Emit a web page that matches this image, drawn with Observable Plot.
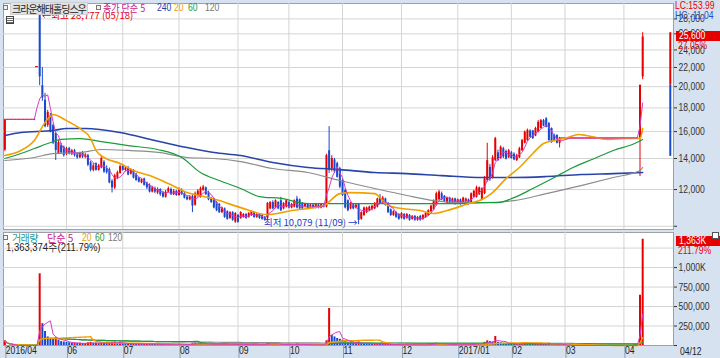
<!DOCTYPE html>
<html><head><meta charset="utf-8">
<script src="https://cdn.jsdelivr.net/npm/d3@7"></script>
<script src="https://cdn.jsdelivr.net/npm/@observablehq/plot@0.6"></script>
<style>
body{margin:0;background:#fff;}
#wrap{position:relative;width:720px;height:358px;overflow:hidden;background:#d6e2f0;}
#wrap svg{position:absolute;left:0;display:block;}
.lab{position:absolute;white-space:nowrap;line-height:11px;transform-origin:0 0;}
</style></head><body><div id="wrap"></div>
<script>
// ---------- DATA ----------
const open = [14600,17000,17000,17000,17000,17000,17000,17000,17000,17000,
17000,17000,22100,28700,20100,18700,16500,17300,16500,15850,
14350,14950,14800,14300,14700,14300,14550,14250,14050,14400,
14100,14200,13700,13200,13650,13200,13350,13750,13300,13250,
12500,12100,12700,13000,13450,13200,13350,12950,13150,12900,
12700,12400,12650,12400,12250,11850,12050,11800,12000,11800,
11550,11850,12000,11700,11900,11650,11950,11750,11550,11400,
11600,11100,11650,11550,11950,12100,11800,11450,11450,11250,
11150,10700,10900,10750,10400,10700,10200,10550,10400,10450,
10600,10450,10550,10700,10450,10600,10550,10450,10400,10900,
11250,10950,11250,11350,10900,11000,11250,10950,11000,11450,
11400,11200,11000,11150,11000,11100,10950,11100,10950,11100,
11000,14550,13300,13900,13650,13300,12550,11950,11350,10900,
11150,10950,11150,10350,10550,10700,10800,10850,10900,11000,
11550,11250,11450,11200,10850,10550,10700,10600,10400,10600,
10400,10550,10350,10500,10300,10500,10350,10450,10550,10750,
10850,11100,11400,11750,11600,11200,11500,11250,11450,11200,
11400,11200,11300,11400,11250,11550,11550,11700,11400,11750,
12550,13400,12700,13850,14400,14000,14700,14500,14050,14400,
14300,13850,14050,14550,15100,15300,16050,16050,15650,15950,
16250,16900,17050,16650,16250,15700,15700,15100,15500,15500,
15500,15500,15500,15500,15500,15500,15500,15500,15500,15500,
15500,15500,15500,15500,15500,15500,15500,15500,15500,15500,
15500,15500,15500,15500,15500,15500,15500,15500,21000];
const high = [17000,17000,17000,17000,17000,17000,17000,17000,17000,17000,
17000,17000,22100,28777,22000,19350,17780,17500,16600,15900,
15300,15100,14900,14800,14800,14650,14650,14400,14450,14500,
14350,14300,13800,13650,13700,13600,14200,13850,13500,13350,
12600,12950,13150,13550,13550,13450,13450,13300,13250,13000,
12750,12650,12700,12450,12350,12200,12150,12100,12050,11900,
11950,12150,12100,12000,11950,12100,12050,11850,11650,11650,
11700,11850,12000,12150,12250,12150,11900,11550,11500,11300,
11200,11000,10950,10800,10750,10750,10700,10600,10750,10650,
10650,10700,10800,10750,10650,10650,10600,10500,11250,11300,
11350,11400,11300,11550,11250,11400,11300,11200,11400,11600,
11450,11250,11200,11200,11150,11150,11200,11150,11200,11150,
14300,16400,14200,14000,13750,13400,12650,12050,11400,11250,
11200,11150,11200,10750,11000,11000,11050,11100,11250,11500,
11700,11600,11500,11250,10900,10800,10750,10650,10700,10650,
10650,10600,10550,10550,10500,10550,10600,10700,10850,11100,
11400,11850,11950,11850,11650,11550,11550,11500,11500,11450,
11450,11550,11500,11450,11800,11950,12200,12150,12100,12800,
15100,13600,14200,15550,14600,14900,14800,14600,14650,14500,
14400,14300,14800,15400,16050,16200,16150,16100,16350,16900,
17000,17000,17150,16750,16300,15800,15750,15550,15500,15500,
15500,15500,15500,15500,15500,15500,15500,15500,15500,15500,
15500,15500,15500,15500,15500,15500,15500,15500,15500,15500,
15500,15500,15500,15500,15500,15500,15500,20150,26150];
const low = [14500,17000,17000,17000,17000,17000,17000,17000,17000,17000,
17000,17000,22100,20100,18600,16300,16340,15900,15000,13860,
14300,14300,14100,14200,14250,14200,14100,13950,14000,14000,
14000,13450,13100,13100,13150,13150,13300,13000,12950,12350,
11800,12000,12600,12950,13150,13100,12850,12900,12650,12500,
12400,12350,12200,12000,11800,11800,11750,11700,11600,11500,
11500,11800,11650,11650,11600,11600,11650,11450,11350,11350,
10700,11050,11550,11500,11900,11650,11350,11200,10900,10750,
10650,10650,10400,10300,10350,10250,10150,10150,10350,10400,
10350,10400,10500,10400,10400,10350,10300,10250,10350,10850,
10850,10900,10850,10750,10850,10950,10900,10900,10950,10900,
10850,10850,10950,10900,10950,10900,10900,10900,10900,10950,
10950,13000,13100,13000,12700,12050,11600,10900,10750,10850,
10850,10900,10079,10300,10500,10650,10750,10800,10850,10950,
11150,11200,11050,10650,10500,10500,10400,10300,10350,10300,
10350,10250,10300,10250,10250,10250,10300,10400,10500,10700,
10800,11050,11350,11350,11250,11150,11150,11200,11100,11150,
11100,11150,11250,11100,11200,11500,11500,11650,11350,11700,
12450,12500,12650,13800,13800,13950,14000,13900,14000,13950,
13850,13800,14000,14500,15050,15250,15500,15400,15600,15900,
16200,16400,16300,15250,15100,15200,15050,14750,15500,15500,
15500,15500,15500,15500,15500,15500,15500,15500,15500,15500,
15500,15500,15500,15500,15500,15500,15500,15500,15500,15500,
15500,15500,15500,15500,15500,15500,15500,12800,20700];
const close = [17000,17000,17000,17000,17000,17000,17000,17000,17000,17000,
17000,17000,22100,21000,18900,16400,17600,15950,15100,14570,
15150,14400,14200,14700,14350,14550,14200,14050,14350,14100,
14250,13550,13200,13500,13200,13500,14000,13100,13050,12400,
12100,12850,13050,13450,13200,13350,12900,13200,12700,12550,
12450,12600,12250,12100,11850,12100,11850,12000,11700,11550,
11850,12050,11700,11900,11650,11950,11700,11500,11400,11550,
11050,11750,11900,12050,12150,11700,11400,11250,10950,10800,
10700,10950,10450,10350,10700,10300,10650,10200,10700,10600,
10400,10650,10750,10450,10600,10400,10350,10300,11200,11250,
10900,11350,10900,10800,11200,11350,10950,11150,11350,10950,
10900,10900,11150,10950,11100,10950,11150,10950,11150,11000,
14200,13200,14000,13100,12750,12150,11650,10950,10800,11200,
10900,11100,10300,10700,10950,10950,11000,11050,11200,11450,
11200,11500,11100,10700,10550,10750,10450,10350,10650,10350,
10600,10300,10500,10300,10450,10300,10550,10650,10800,11050,
11350,11750,11850,11400,11300,11500,11200,11450,11150,11400,
11150,11500,11450,11150,11750,11900,12100,12100,12050,12650,
13850,12600,14050,15450,13850,14800,14100,13950,14550,14000,
13900,14200,14700,15300,15950,16100,15550,15450,16250,16750,
16900,16450,16350,15300,15150,15250,15100,15500,15500,15500,
15500,15500,15500,15500,15500,15500,15500,15500,15500,15500,
15500,15500,15500,15500,15500,15500,15500,15500,15500,15500,
15500,15500,15500,15500,15500,15500,15500,20150,25600];
const volume = [60000,0,0,0,0,0,0,0,0,0,
0,0,0,920000,280000,180000,110000,90000,80000,100000,
70000,50000,45000,40000,35000,30000,30000,28000,30000,25000,
25000,35000,40000,30000,30000,25000,35000,30000,25000,35000,
40000,45000,30000,35000,25000,20000,25000,20000,25000,20000,
20000,18000,20000,22000,25000,18000,15000,18000,15000,15000,
18000,20000,15000,15000,12000,18000,15000,12000,12000,12000,
25000,30000,22000,25000,20000,18000,15000,12000,18000,20000,
18000,15000,18000,15000,12000,15000,18000,12000,15000,12000,
10000,10000,12000,10000,10000,10000,12000,12000,35000,20000,
15000,15000,12000,15000,12000,12000,10000,10000,12000,20000,
15000,12000,10000,10000,8000,8000,8000,8000,8000,8000,
60000,475000,130000,110000,90000,80000,70000,60000,40000,30000,
25000,20000,45000,30000,25000,20000,18000,15000,18000,22000,
20000,15000,15000,15000,12000,10000,12000,10000,10000,10000,
10000,10000,8000,10000,8000,8000,10000,10000,12000,15000,
25000,30000,25000,15000,12000,12000,10000,10000,10000,10000,
10000,12000,10000,10000,18000,20000,25000,20000,25000,40000,
60000,50000,45000,115000,40000,35000,30000,25000,20000,18000,
15000,15000,20000,30000,35000,25000,20000,15000,20000,25000,
25000,18000,20000,30000,25000,15000,15000,20000,0,0,
0,0,0,0,0,0,0,0,0,0,
0,0,0,0,0,0,0,0,0,0,
0,0,0,0,0,0,0,643752,1363374];

// moving averages: [trading-day index, price]
const ma20 = [[0,14210],[6,14570],[11,15310],[15,16740],[18,17420],[23,16900],[28,16250],[32,15460],[34,14570],[37,14070],[43,13660],[48,13190],[54,12860],[61,12360],[68,11820],[76,11530],[80,11360],[88,10970],[98,10600],[107,10810],[119,11080],[125,11760],[129,11820],[138,11760],[143,11080],[148,10920],[155,10810],[160,10650],[165,10810],[173,11190],[178,11420],[182,11820],[187,12670],[192,13390],[197,14350],[201,15080],[205,15310],[210,15540],[214,15770],[217,15700],[225,15390],[232,15460],[237,15460],[238,16250]];
const ma60 = [[0,14000],[6,14350],[11,14710],[16,15080],[21,15390],[28,15460],[36,15230],[46,14930],[57,14640],[66,14070],[73,13060],[80,12550],[88,12060],[95,11590],[103,11480],[113,11190],[125,11190],[138,11190],[148,11190],[158,11190],[168,11190],[178,11250],[184,11250],[190,11530],[197,12060],[205,12740],[212,13390],[220,14000],[227,14570],[235,15080],[238,15390]];
const ma120 = [[0,13860],[11,14070],[18,14350],[28,14420],[36,14640],[46,14570],[58,14420],[68,14070],[78,14000],[88,13790],[100,13320],[113,13060],[125,12550],[138,12060],[150,11650],[160,11360],[170,11250],[178,11250],[190,11360],[202,11760],[215,12240],[227,12740],[237,13190],[238,13390]];
const ma240 = [[0,15700],[6,15930],[18,16090],[23,16250],[30,16250],[43,15930],[56,15310],[68,14780],[78,14420],[88,14210],[100,13720],[113,13390],[125,13250],[138,13060],[150,12990],[163,12860],[178,12740],[190,12740],[202,12800],[215,12930],[227,12990],[238,13060]];

// daily price-limit band of the last session: [lower, previous close, upper]
const limitBand = [14150, 20150, 26150];

const monthIdx = [0,23,44,65,87,106,126,148,169,189,209,231];
const monthLabels = ["2016/04","06","07","08","09","10","11","12","2017/01","02","03","04"];
const priceTicks = [10000,12000,14000,16000,18000,20000,22000,24000,26000,28000];
const priceTickLabels = ["","12,000","14,000","16,000","18,000","20,000","22,000","24,000","26,000","28,000"];
const volTicks = [0,250000,500000,750000,1000000];
const volTickLabels = ["","250,000","500,000","750,000","1,000K"];
const volGrid = [250000,500000,750000,1000000,1250000];
const annHigh = "최고 28,777 (05/18)";
const annLow = "최저 10,079 (11/09)";
const lastDateLabel = "04/12";
const stockName = "크라운해태홀딩스우";
const lcText = "LC:153.99", hcText = "HC:-11.04";

// ---------- STYLE ----------
const RED = "#e60000", BLUE = "#1848d0", MAG = "#d63cc4", ORANGE = "#f0a000",
      GREEN = "#1a9a3c", GRAY = "#8c8c8c", NAVY = "#2844a8", GRID = "#d4d4d4";
const KR = "'Noto Sans CJK KR', sans-serif";
const NUM = "'Liberation Sans', Arial, sans-serif";
const SX = 0.78; // horizontal condensing of numeric labels (the reference uses a narrow bitmap font)
const xDomain = [-0.5, 249.5];

const rows = close.map((c, i) => ({
  i, o: open[i], h: high[i], l: low[i], c, v: volume[i],
  up: c >= open[i],
  vup: i === 0 || volume[i] >= volume[i - 1]
}));
const hiI = d3.maxIndex(high), loI = d3.minIndex(low);
const nLast = close.length - 1;

const baseStyle = {background: "transparent", fontFamily: NUM, fontSize: "11px", color: "#333", overflow: "visible"};
const maLine = (arr, stroke, w) => Plot.line(arr, {x: d => d[0], y: d => d[1], stroke, strokeWidth: w, curve: "monotone-x"});

const main = Plot.plot({
  width: 720, height: 230, marginTop: 3, marginBottom: 1, marginLeft: 3, marginRight: 47,
  style: baseStyle,
  x: {type: "linear", domain: xDomain, axis: null, label: null},
  y: {type: "log", domain: [9840, 30230], label: null},
  color: {type: "identity"},
  marks: [
    Plot.frame({fill: "white", stroke: "#a0a0a0"}),
    Plot.ruleY(priceTicks, {stroke: GRID}),
    Plot.ruleX(monthIdx.slice(1), {stroke: GRID}),
    Plot.ruleX(rows, {x: "i", y1: "l", y2: "h", stroke: d => d.up ? RED : BLUE, strokeWidth: 1}),
    Plot.ruleX(rows.filter(d => d.o !== d.c), {x: "i", y1: "o", y2: "c", stroke: d => d.up ? RED : BLUE, strokeWidth: 2}),
    Plot.ruleY(rows.filter(d => d.o === d.c), {y: "c", x1: d => d.i - 0.5, x2: d => d.i + 0.5, stroke: RED, strokeWidth: 1.2}),
    maLine(ma240, NAVY, 1.6),
    maLine(ma120, GRAY, 1.2),
    maLine(ma60, GREEN, 1.2),
    maLine(ma20, ORANGE, 1.6),
    Plot.lineY(rows, Plot.windowY({k: 5, anchor: "end"}, {x: "i", y: "c", stroke: MAG, strokeWidth: 1})),
    Plot.ruleX([xDomain[1] - 1.2], {y1: limitBand[1], y2: limitBand[2], stroke: RED, strokeWidth: 2}),
    Plot.ruleX([xDomain[1] - 1.2], {y1: limitBand[0], y2: limitBand[1], stroke: BLUE, strokeWidth: 2}),
    Plot.text([hiI], {x: d => d, y: d => high[d], text: () => "←" + annHigh, textAnchor: "start", dx: 2, dy: 3, fill: RED, fontFamily: KR, fontSize: 9.5}),
    Plot.text([loI], {x: d => d, y: d => low[d], text: () => annLow + " →", textAnchor: "end", dx: -1, dy: -2, fill: "#1e3cc8", fontFamily: KR, fontSize: 9.5}),
    Plot.axisY({anchor: "right", label: null, ticks: priceTicks, tickFormat: d => priceTickLabels[priceTicks.indexOf(d)], tickSize: 3, tickPadding: 2, fill: "#333"})
  ]
});

const vol = Plot.plot({
  width: 720, height: 128, marginTop: 2, marginBottom: 13, marginLeft: 3, marginRight: 47,
  style: baseStyle,
  x: {type: "linear", domain: xDomain, label: null},
  y: {domain: [0, 1450000], label: null},
  color: {type: "identity"},
  marks: [
    Plot.frame({fill: "white", stroke: "#a0a0a0"}),
    Plot.ruleY(volGrid, {stroke: GRID}),
    Plot.ruleX(monthIdx.slice(1), {stroke: GRID}),
    Plot.ruleX(rows, {x: "i", y1: 0, y2: "v", stroke: d => d.vup ? RED : BLUE, strokeWidth: 2}),
    Plot.lineY(rows, Plot.windowY({k: 120, anchor: "end"}, {x: "i", y: "v", stroke: GRAY, strokeWidth: 1.2})),
    Plot.lineY(rows, Plot.windowY({k: 60, anchor: "end"}, {x: "i", y: "v", stroke: GREEN, strokeWidth: 1.2})),
    Plot.lineY(rows, Plot.windowY({k: 20, anchor: "end"}, {x: "i", y: "v", stroke: ORANGE, strokeWidth: 1.4})),
    Plot.lineY(rows, Plot.windowY({k: 5, anchor: "end"}, {x: "i", y: "v", stroke: MAG, strokeWidth: 1})),
    Plot.axisY({anchor: "right", label: null, ticks: volTicks, tickFormat: d => volTickLabels[volTicks.indexOf(d)], tickSize: 3, tickPadding: 2, fill: "#333"}),
    Plot.axisX({anchor: "bottom", label: null, ticks: monthIdx, tickFormat: d => monthLabels[monthIdx.indexOf(d)], tickSize: 13, tickPadding: -12, textAnchor: "start", dx: 1, stroke: "#8e9db0", fill: "#222"})
  ]
});

// condense numeric axis labels horizontally around their anchor
function condense(svg, s) {
  svg.querySelectorAll('g[aria-label*="tick label"] text').forEach(t => {
    const x = +(t.getAttribute("x") || 0);
    const tr = t.getAttribute("transform") || "";
    t.setAttribute("transform", `${tr} translate(${x},0) scale(${s},1) translate(${-x},0)`);
  });
}
condense(main, SX); condense(vol, SX);

const wrap = document.getElementById("wrap");
main.style.top = "0px"; vol.style.top = "230px";
wrap.appendChild(main); wrap.appendChild(vol);

function lab(text, left, top, color, o = {}) {
  const d = document.createElement("div");
  d.className = "lab";
  d.textContent = text;
  Object.assign(d.style, {
    left: left + "px", top: top + "px", color: color || "#222",
    fontFamily: o.num ? NUM : KR, fontSize: (o.size || (o.num ? 11 : 10)) + "px",
    transform: o.sx ? `scaleX(${o.sx})` : "none"
  }, o.css || {});
  wrap.appendChild(d);
  return d;
}
function box(left, top, w, h, css) {
  const d = document.createElement("div");
  Object.assign(d.style, {position: "absolute", left: left + "px", top: top + "px", width: w + "px", height: h + "px", boxSizing: "border-box", border: "1px solid #777", background: "#f4f4f4"}, css || {});
  wrap.appendChild(d);
  return d;
}
const fmt = d3.format(",");
// price legend
box(3, 5, 5, 5);
lab(stockName, 10, 2, "#222", {css: {background: "#e2e2e2", border: "1px solid #cfcfcf", padding: "0 1px", letterSpacing: "-1px", height: "11px"}});
box(96, 5, 5, 5);
lab("종가 단순 5", 103, 2, "#c8208c", {sx: 0.9});
lab("240", 157, 2, "#1e3caa", {num: true, sx: SX});
lab("20", 174, 2, ORANGE, {num: true, sx: SX});
lab("60", 188, 2, GREEN, {num: true, sx: SX});
lab("120", 205, 2, "#777", {num: true, sx: SX});
box(6, 16, 8, 8, {border: "1px solid #444", background: "repeating-linear-gradient(#fff 0 1px,#666 1px 2px)"});
// right panel texts
lab(lcText, 675, 0, RED, {num: true, sx: SX});
lab(hcText, 675, 10, "#1e50c8", {num: true, sx: SX});
const pct = (close[nLast] / close[nLast - 1] - 1) * 100;
box(676, 31, 44, 10, {background: RED, border: "none"});
lab(fmt(close[nLast]), 679, 30, "#fff", {num: true, sx: SX});
lab(pct.toFixed(2) + "%", 678, 40, RED, {num: true, sx: SX});
// volume legend
box(3, 235, 5, 5);
lab("거래량", 12, 232, "#1a9a9a", {css: {letterSpacing: "-0.6px"}});
lab("단순 5", 47, 232, "#c8208c");
lab("20", 82, 232, ORANGE, {num: true, sx: SX});
lab("60", 95, 232, GREEN, {num: true, sx: SX});
lab("120", 108, 232, "#777", {num: true, sx: SX});
const vPct = volume[nLast] / volume[nLast - 1] * 100;
lab(fmt(volume[nLast]) + "주(" + vPct.toFixed(2) + "%)", 6, 242, "#222", {num: true, sx: 0.86});
box(676, 236, 44, 10, {background: RED, border: "none"});
lab(fmt(Math.round(volume[nLast] / 1000)) + "K", 679, 235, "#fff", {num: true, sx: SX});
box(712, 232, 7, 7, {border: "1px solid #555", background: "#fff"});
lab(vPct.toFixed(2) + "%", 678, 245, RED, {num: true, sx: SX});
lab(lastDateLabel, 680, 346, "#222", {num: true, sx: SX});
</script></body></html>
